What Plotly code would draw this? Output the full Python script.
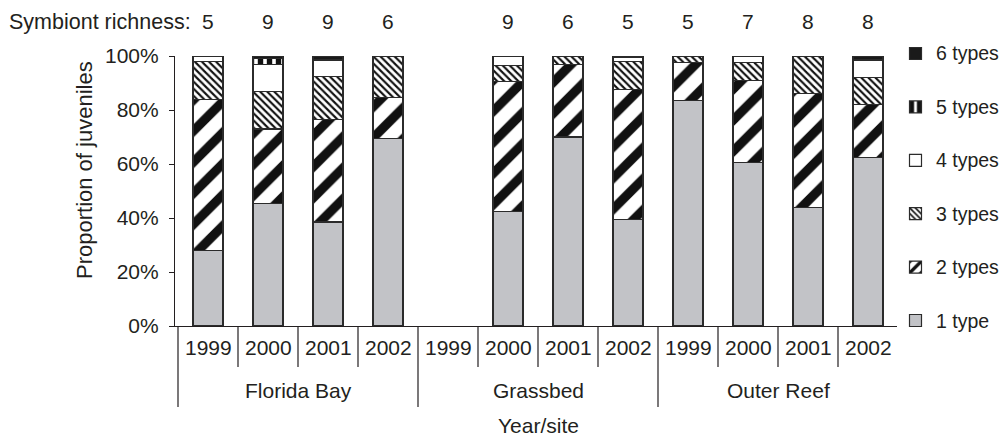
import plotly.graph_objects as go

# Sites and sampling years (one bar per site-year)
sites = ["Florida Bay", "Grassbed", "Outer Reef"]
years = ["1999", "2000", "2001", "2002"]

# Proportion of juveniles (%) hosting 1..6 symbiont types, per site-year
one_type = [28, 45.5, 38.5, 69.5, None, 42.5, 70, 39.5, 83.5, 60.5, 44, 62.5]
two_types = [56, 27.5, 38, 15, None, 48, 27, 48, 14, 30.5, 42, 19.5]
three_types = [14, 14, 16, 15.5, None, 6, 3, 10.5, 2.5, 6.5, 14, 10]
four_types = [2, 10, 6, None, None, 3.5, None, 1.5, None, 2.5, None, 6.5]
five_types = [None, 2, None, None, None, None, None, 0.5, None, None, None, None]
six_types = [None, 1, 1.5, None, None, None, None, None, None, None, None, 1.5]

# Symbiont richness written above each bar
richness = [5, 9, 9, 6, None, 9, 6, 5, 5, 7, 8, 8]

y_ticks = [0, 20, 40, 60, 80, 100]
y_tick_text = ["0%", "20%", "40%", "60%", "80%", "100%"]

series_names = ["1 type", "2 types", "3 types", "4 types", "5 types", "6 types"]
series_values = [one_type, two_types, three_types, four_types, five_types, six_types]

INK = "#231f20"
FONT = "Liberation Sans, Arial, sans-serif"
FS = 21

styles = [
    dict(color="#c2c3c7"),
    dict(color="white", pattern=dict(shape="/", fgcolor="#111111", bgcolor="white",
                                     size=22, solidity=0.42, fgopacity=1)),
    dict(color="white", pattern=dict(shape="\\", fgcolor="#111111", bgcolor="white",
                                     size=5, solidity=0.42, fgopacity=1)),
    dict(color="white"),
    dict(color="white", pattern=dict(shape="|", fgcolor="#111111", bgcolor="white",
                                     size=9, solidity=0.6, fgopacity=1)),
    dict(color="#1a1a1a"),
]

n = len(sites) * len(years)
xpos = list(range(n))

fig = go.Figure()
for k, (name, vals, st) in enumerate(zip(series_names, series_values, styles)):
    marker = dict(st)
    marker["line"] = dict(color="#2b2b2b", width=1.2)
    fig.add_trace(go.Bar(
        x=xpos, y=vals, name=name, width=0.5, marker=marker,
        legendgroup=name, legendrank=len(series_names) - k, hoverinfo="skip",
    ))

# Plot area geometry (pixels) used to place text around the axes
L, R, T, B = 175, 897, 56, 326
PW, PH = R - L, B - T
X0 = 208          # pixel centre of the first bar
STEP = 60         # pixels per category


def py(pix):
    """pixel row -> paper y"""
    return (B - pix) / PH


def px(pix):
    """pixel column -> paper x"""
    return (pix - L) / PW


x_lo = (L - X0) / STEP
x_hi = (R - X0) / STEP

annotations = []
shapes = []
txt = dict(size=FS, family=FONT, color=INK)

# Year labels and separators below the axis
for i in range(n):
    annotations.append(dict(x=i, y=py(347), xref="x", yref="paper", text=years[i % 4],
                            showarrow=False, xanchor="center", yanchor="middle", font=txt))
for k in range(n + 1):
    b = k - 0.5
    long_line = (k % 4 == 0)
    shapes.append(dict(type="line", xref="x", yref="paper", x0=b, x1=b,
                       y0=0, y1=py(407) if long_line else py(367),
                       line=dict(color=INK, width=1.2)))

# Site labels
for s, site in enumerate(sites):
    annotations.append(dict(x=s * 4 + 1.5, y=py(390), xref="x", yref="paper", text=site,
                            showarrow=False, xanchor="center", yanchor="middle", font=txt))

# Axis titles
annotations.append(dict(x=px(X0 + STEP * 5.5), y=py(425), xref="paper", yref="paper",
                        text="Year/site", showarrow=False, xanchor="center", yanchor="middle",
                        font=txt))
annotations.append(dict(x=px(84), y=py(170), xref="paper", yref="paper",
                        text="Proportion of juveniles", textangle=-90, showarrow=False,
                        xanchor="center", yanchor="middle",
                        font=dict(size=22, family=FONT, color=INK)))

# Richness row above the bars
annotations.append(dict(x=(193 - X0) / STEP, y=py(22), xref="x", yref="paper",
                        text="Symbiont richness:", showarrow=False, xanchor="right",
                        yanchor="middle", font=dict(size=21.5, family=FONT, color=INK)))
for i, r in enumerate(richness):
    if r is None:
        continue
    annotations.append(dict(x=i, y=py(22), xref="x", yref="paper", text=str(r),
                            showarrow=False, xanchor="center", yanchor="middle", font=txt))

# Legend: swatches come from the plotly legend, labels are placed beside them
LEG_TOP = 53.5      # centre row of the first entry
LEG_STEP = 53.4     # vertical distance between entries
for j, name in enumerate(reversed(series_names)):
    annotations.append(dict(x=px(934), y=py(LEG_TOP + j * LEG_STEP), xref="paper",
                            yref="paper", text=name, showarrow=False, xanchor="left",
                            yanchor="middle",
                            font=dict(size=19.5, family=FONT, color=INK)))

fig.update_layout(
    width=1006, height=443,
    margin=dict(l=L, r=1006 - R, t=T, b=443 - B, pad=0),
    barmode="stack",
    paper_bgcolor="white", plot_bgcolor="white",
    font=dict(family=FONT, size=FS, color=INK),
    showlegend=True,
    legend=dict(x=px(895.5), xanchor="left", xref="paper",
                y=py(LEG_TOP - 14.5), yanchor="top", yref="paper",
                traceorder="grouped", tracegroupgap=LEG_STEP - 19, maxheight=420,
                bgcolor="rgba(0,0,0,0)", borderwidth=0,
                font=dict(size=1, family=FONT, color="rgba(0,0,0,0)"), itemwidth=30),
    xaxis=dict(range=[x_lo, x_hi], showticklabels=False, ticks="", showgrid=False,
               zeroline=False, showline=True, linecolor=INK, linewidth=1.2),
    yaxis=dict(range=[0, 100], tickmode="array", tickvals=y_ticks, ticktext=y_tick_text,
               ticks="outside", ticklen=5, tickcolor=INK, tickwidth=1.2,
               ticklabelstandoff=6,
               showgrid=False, zeroline=False, showline=True, linecolor=INK,
               linewidth=1.2, tickfont=txt),
    annotations=annotations,
    shapes=shapes,
)

fig.write_html("out.html")
